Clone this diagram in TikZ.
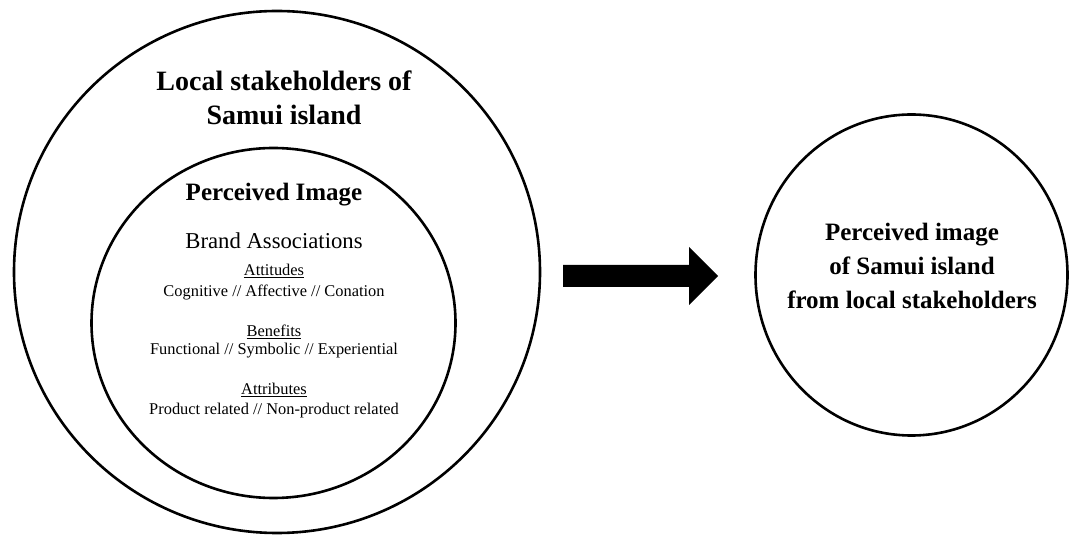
\documentclass[tikz,border=0pt]{standalone}
\usepackage{fontspec}
\setmainfont{Liberation Serif}
\usetikzlibrary{shapes.geometric}
\tikzset{
  ring/.style={draw=black, line width=2.6pt, ellipse, inner sep=0pt, outer sep=0pt},
  txt/.style={anchor=base, inner sep=0pt, outer sep=0pt, align=center},
  bigbold/.style={txt, font=\fontsize{28}{34}\selectfont\bfseries},
  midbold/.style={txt, font=\fontsize{25}{30}\selectfont\bfseries},
  midreg/.style={txt, font=\fontsize{22.7}{27}\selectfont},
  small/.style={txt, font=\fontsize{16.4}{20}\selectfont},
}
\begin{document}
\begin{tikzpicture}[x=1pt, y=-1pt]
\useasboundingbox (0,0) rectangle (1069,537);
% circles
\node[ring, minimum width=526, minimum height=522] (outer) at (277,272) {};
\node[ring, minimum width=364, minimum height=350] (inner) at (273.5,323) {};
\node[ring, minimum width=312, minimum height=321] (right) at (911.5,275) {};
% outer title
\node[bigbold] (t1) at (284,91) {Local stakeholders of};
\node[bigbold] (t2) at (284,125) {Samui island};
% inner texts
\node[midbold] (pi) at (274,201) {Perceived Image};
\node[midreg] (ba) at (274,249) {Brand Associations};
\node[small] (h1) at (274,276) {\underline{Attitudes}};
\node[small] (l1) at (274,297) {Cognitive // Affective // Conation};
\node[small] (h2) at (274,337) {\underline{Benefits}};
\node[small] (l2) at (274,355) {Functional // Symbolic // Experiential};
\node[small] (h3) at (274,395) {\underline{Attributes}};
\node[small] (l3) at (274,415) {Product related // Non-product related};
% right texts
\node[midbold] (r1) at (912,241) {Perceived image};
\node[midbold] (r2) at (912,275) {of Samui island};
\node[midbold] (r3) at (912,309) {from local stakeholders};
% block arrow
\fill[black] (563,265) -- (689,265) -- (689,247) -- (718,276) -- (689,305) -- (689,287) -- (563,287) -- cycle;
\end{tikzpicture}
\end{document}
